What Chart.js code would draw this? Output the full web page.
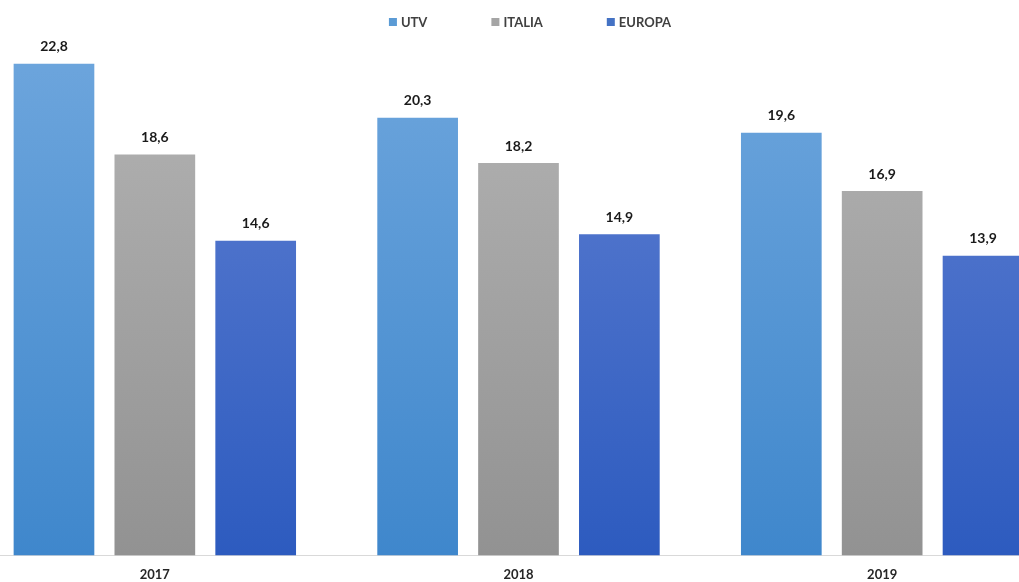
<!DOCTYPE html>
<html>
<head>
<meta charset="utf-8">
<script src="https://cdn.jsdelivr.net/npm/chart.js@4.4.1/dist/chart.umd.min.js"></script>
<style>
  html, body { margin: 0; padding: 0; background: #fff; overflow: hidden; }
  #wrap { position: absolute; left: -27px; top: 0; width: 1091px; height: 587px; }
</style>
</head>
<body>
<div id="wrap"><canvas id="chart"></canvas></div>
<script>
// Years on the x axis and the three series
const years = ['2017', '2018', '2019'];
const utv = [22.8, 20.3, 19.6];
const italia = [18.6, 18.2, 16.9];
const europa = [14.6, 14.9, 13.9];

const FONT = 'Lato, "Open Sans", sans-serif';
const legendColors = ['#5b9bd5', '#a5a5a5', '#4472c4'];

function grad(top, bottom) {
  return function(ctx) {
    const area = ctx.chart.chartArea;
    if (!area) return top;
    const g = ctx.chart.ctx.createLinearGradient(0, area.top, 0, area.bottom);
    g.addColorStop(0, top);
    g.addColorStop(1, bottom);
    return g;
  };
}

// draws the value above each bar, with a decimal comma
const valueLabels = {
  id: 'valueLabels',
  afterDatasetsDraw(chart) {
    const c = chart.ctx;
    c.save();
    c.font = 'bold 14px ' + FONT;
    c.fillStyle = '#1a1a1a';
    c.textAlign = 'center';
    c.textBaseline = 'bottom';
    chart.data.datasets.forEach((ds, i) => {
      chart.getDatasetMeta(i).data.forEach((bar, j) => {
        c.fillText(ds.data[j].toFixed(1).replace('.', ','), bar.x, bar.y - 10);
      });
    });
    c.restore();
  }
};

// small legend row at the top, spaced wider than the built-in one allows
const topLegend = {
  id: 'topLegend',
  afterDraw(chart) {
    const c = chart.ctx;
    c.save();
    c.font = 'bold 13px ' + FONT;
    c.textBaseline = 'middle';
    const gap = 64, box = 8;
    const items = chart.data.datasets.map(ds => ({ label: ds.label, w: c.measureText(ds.label).width }));
    const total = items.reduce((s, it) => s + box + 4 + it.w, 0) + gap * (items.length - 1);
    let x = 530 + 27 - total / 2;
    const y = 22;
    items.forEach((it, i) => {
      c.fillStyle = legendColors[i];
      c.fillRect(x, y - box / 2, box, box);
      c.fillStyle = '#404040';
      c.fillText(it.label, x + box + 4, y + 1);
      x += box + 4 + it.w + gap;
    });
    c.restore();
  }
};

new Chart(document.getElementById('chart'), {
  type: 'bar',
  data: {
    labels: years,
    datasets: [
      { label: 'UTV', data: utv, backgroundColor: grad('#6ea6dd', '#3f87cc') },
      { label: 'ITALIA', data: italia, backgroundColor: grad('#b4b4b4', '#929292') },
      { label: 'EUROPA', data: europa, backgroundColor: grad('#6080d2', '#2d5bbf') }
    ]
  },
  options: {
    responsive: true,
    maintainAspectRatio: false,
    animation: false,
    categoryPercentage: 0.832,
    barPercentage: 0.8,
    layout: { padding: { top: 38, bottom: 0, left: 0, right: 0 } },
    plugins: {
      legend: { display: false },
      tooltip: { enabled: false }
    },
    scales: {
      x: {
        grid: { display: false },
        border: { color: '#d9d9d9' },
        ticks: {
          color: '#262626',
          padding: 4,
          font: { family: FONT, size: 13, weight: 'bold' }
        }
      },
      y: {
        display: false,
        min: 0,
        max: 24
      }
    }
  },
  plugins: [valueLabels, topLegend]
});
</script>
</body>
</html>
